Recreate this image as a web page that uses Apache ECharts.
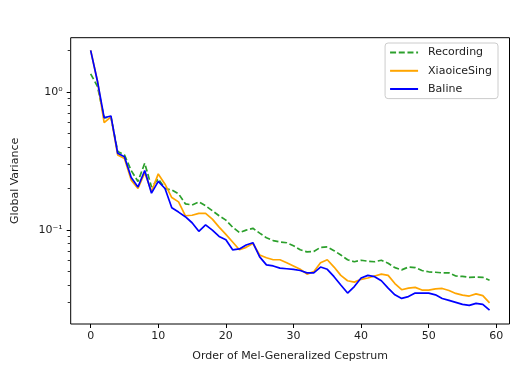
<!DOCTYPE html>
<html>
<head>
<meta charset="utf-8">
<script src="https://cdn.jsdelivr.net/npm/echarts@6/dist/echarts.min.js"></script>
<style>html,body{margin:0;padding:0;background:#fff;}#c{width:510px;height:371px;}</style>
</head>
<body>
<div id="c"></div>
<script>
const orders = Array.from({length: 60}, (_, i) => i);
const recording = [1.35,1.1,0.65,0.66,0.37,0.35,0.27,0.225,0.305,0.205,0.235,0.2,0.195,0.183,0.155,0.152,0.16,0.15,0.138,0.127,0.118,0.105,0.096,0.1,0.103,0.095,0.088,0.084,0.082,0.081,0.077,0.072,0.0695,0.07,0.075,0.0755,0.071,0.066,0.061,0.059,0.0605,0.0595,0.059,0.0605,0.0575,0.0535,0.0515,0.054,0.0535,0.051,0.0499,0.0495,0.049,0.049,0.0465,0.0462,0.0455,0.0457,0.0455,0.0434];
const xiaoice = [2.0,1.2,0.6,0.66,0.35,0.33,0.23,0.2,0.26,0.19,0.255,0.215,0.172,0.16,0.127,0.128,0.132,0.132,0.12,0.105,0.093,0.082,0.072,0.075,0.08,0.066,0.063,0.061,0.061,0.058,0.055,0.052,0.048,0.05,0.058,0.061,0.054,0.047,0.043,0.042,0.044,0.045,0.0465,0.048,0.047,0.041,0.037,0.038,0.0385,0.0368,0.0368,0.0375,0.0378,0.0365,0.0348,0.0338,0.0333,0.0345,0.0335,0.0297];
const baline = [2.0,1.2,0.65,0.67,0.36,0.34,0.24,0.205,0.27,0.185,0.225,0.2,0.145,0.135,0.125,0.113,0.098,0.109,0.1,0.09,0.085,0.072,0.073,0.078,0.081,0.064,0.056,0.055,0.053,0.0525,0.052,0.051,0.049,0.049,0.054,0.052,0.046,0.04,0.035,0.039,0.045,0.047,0.046,0.043,0.038,0.034,0.032,0.033,0.035,0.035,0.035,0.034,0.032,0.031,0.030,0.029,0.0285,0.0295,0.029,0.0263];
const xTicks = [0,10,20,30,40,50,60];
const yMajor = [0.1, 1];
const yMinor = [0.03,0.04,0.05,0.06,0.07,0.08,0.09,0.2,0.3,0.4,0.5,0.6,0.7,0.8,0.9,2];

const font = 'DejaVu Sans';
const txt = '#222';
const chart = echarts.init(document.getElementById('c'), null, {renderer: 'canvas'});
const pairs = arr => arr.map((v, i) => [orders[i], v]);
chart.setOption({
  animation: false,
  textStyle: {fontFamily: font},
  grid: {left: 70.7, right: 0.5, top: 37.7, bottom: 47, show: true, borderColor: '#000', borderWidth: 1, backgroundColor: 'transparent'},
  legend: {
    orient: 'vertical', right: 12, top: 43,
    padding: [4, 6, 4, 4], itemWidth: 28, itemHeight: 14, itemGap: 7,
    borderColor: '#cccccc', borderWidth: 1, borderRadius: 3,
    itemStyle: {opacity: 0, borderWidth: 0},
    textStyle: {fontFamily: font, fontSize: 11, color: txt, padding: [0, 0, 0, 5]},
    data: ['Recording', 'XiaoiceSing', 'Baline']
  },
  xAxis: {
    type: 'value', min: -2.95, max: 61.95,
    name: 'Order of Mel-Generalized Cepstrum', nameLocation: 'middle', nameGap: 27,
    nameTextStyle: {fontFamily: font, fontSize: 11, color: txt},
    axisLine: {show: false, onZero: false},
    axisTick: {show: true, length: 4, lineStyle: {color: '#000'}, customValues: xTicks},
    axisLabel: {fontFamily: font, fontSize: 11, color: txt, margin: 7, customValues: xTicks},
    splitLine: {show: false}
  },
  yAxis: [{
    type: 'log', min: 0.0209, max: 2.47, position: 'left',
    name: 'Global Variance', nameLocation: 'middle', nameGap: 50, nameRotate: 90,
    nameTextStyle: {fontFamily: font, fontSize: 11, color: txt},
    axisLine: {show: false, onZero: false},
    axisTick: {show: true, length: 4, lineStyle: {color: '#000'}, customValues: yMajor},
    axisLabel: {fontFamily: font, fontSize: 11, color: txt, margin: 8, customValues: yMajor,
      formatter: v => (Math.abs(v - 1) < 1e-9 ? '10\u2070' : '10\u207B\u00B9')},
    splitLine: {show: false}
  }, {
    type: 'log', min: 0.0209, max: 2.47, position: 'left', offset: 0,
    axisLine: {show: false, onZero: false},
    axisTick: {show: true, length: 3, lineStyle: {color: '#333', width: 1}, customValues: yMinor},
    axisLabel: {show: false},
    splitLine: {show: false}
  }],
  series: [
    {name: 'Recording', type: 'line', data: pairs(recording), showSymbol: false, symbol: 'none',
     lineStyle: {color: '#2ca02c', width: 1.7, type: [6, 2.7]}, itemStyle: {color: '#2ca02c'}, z: 1},
    {name: 'XiaoiceSing', type: 'line', data: pairs(xiaoice), showSymbol: false, symbol: 'none',
     lineStyle: {color: '#ffa500', width: 1.7}, itemStyle: {color: '#ffa500'}, z: 2},
    {name: 'Baline', type: 'line', data: pairs(baline), showSymbol: false, symbol: 'none',
     lineStyle: {color: '#0000ff', width: 1.7}, itemStyle: {color: '#0000ff'}, z: 3}
  ]
});
</script>
</body>
</html>
